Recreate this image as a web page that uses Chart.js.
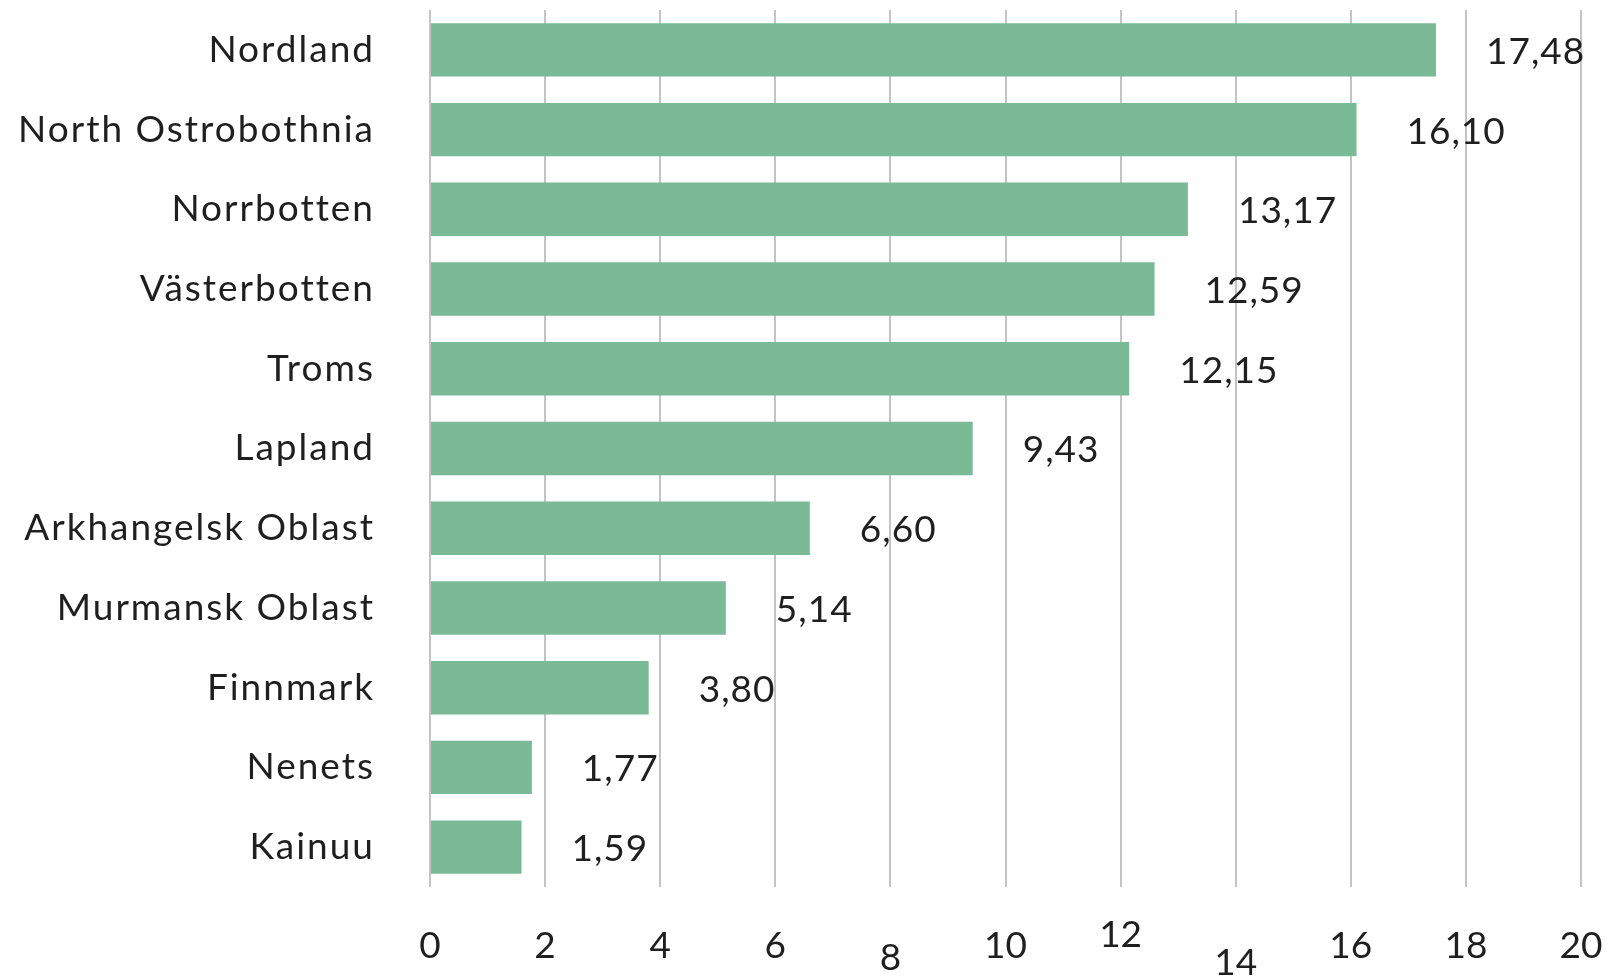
<!DOCTYPE html>
<html>
<head>
<meta charset="utf-8">
<script src="https://cdn.jsdelivr.net/npm/chart.js@4/dist/chart.umd.min.js"></script>
<style>
    html, body { margin: 0; padding: 0; background: #fff; }
    #wrap { width: 1612px; height: 976px; }
</style>
</head>
<body>
<div id="wrap"><canvas id="region-chart"></canvas></div>
<script>
// 各地区数值
const regions = ['Nordland', 'North Ostrobothnia', 'Norrbotten', 'Västerbotten', 'Troms', 'Lapland',
    'Arkhangelsk Oblast', 'Murmansk Oblast', 'Finnmark', 'Nenets', 'Kainuu'];
const values = [17.48, 16.10, 13.17, 12.59, 12.15, 9.43, 6.60, 5.14, 3.80, 1.77, 1.59];
const xTickValues = [0, 2, 4, 6, 8, 10, 12, 14, 16, 18, 20];

// 原图里部分刻度文字上下错位
const xTickShift = { 8: 12, 12: -11, 14: 17 };

const FONT = 'Lato, "Open Sans", sans-serif';
const TEXT_COLOR = '#1f1f1f';

// 类目标签字距略宽
const letterSpacingPlugin = {
    id: 'letterSpacing',
    beforeDraw(chart) { chart.ctx.letterSpacing = '2px'; },
    beforeDatasetsDraw(chart) { chart.ctx.letterSpacing = '0px'; }
};

const valueLabelPlugin = {
    id: 'valueLabels',
    afterDatasetsDraw(chart) {
        const ctx = chart.ctx;
        const meta = chart.getDatasetMeta(0);
        ctx.save();
        ctx.font = '37px ' + FONT;
        ctx.letterSpacing = '1px';
        ctx.fillStyle = TEXT_COLOR;
        ctx.textAlign = 'left';
        ctx.textBaseline = 'middle';
        meta.data.forEach((bar, i) => {
            const text = values[i].toFixed(2).replace('.', ',');
            ctx.fillText(text, bar.x + 50, bar.y + 2);
        });
        ctx.restore();
    }
};

const xTickPlugin = {
    id: 'xTickLabels',
    afterDraw(chart) {
        const ctx = chart.ctx;
        const scale = chart.scales.x;
        ctx.save();
        ctx.font = '37px ' + FONT;
        ctx.fillStyle = TEXT_COLOR;
        ctx.textAlign = 'center';
        ctx.textBaseline = 'middle';
        xTickValues.forEach((v) => {
            const x = scale.getPixelForValue(v);
            const y = chart.chartArea.bottom + 59 + (xTickShift[v] || 0);
            ctx.fillText(String(v), x, y);
        });
        ctx.restore();
    }
};

new Chart(document.getElementById('region-chart'), {
    type: 'bar',
    data: {
        labels: regions,
        datasets: [{
            data: values,
            backgroundColor: '#7aba97',
            borderWidth: 0,
            barPercentage: 1,
            categoryPercentage: 0.67
        }]
    },
    options: {
        indexAxis: 'y',
        responsive: true,
        maintainAspectRatio: false,
        animation: false,
        layout: { padding: { top: 10, right: 31, bottom: 0, left: 0 } },
        plugins: { legend: { display: false }, tooltip: { enabled: false } },
        scales: {
            x: {
                min: 0,
                max: 20,
                ticks: { display: false, stepSize: 2 },
                grid: { color: '#c4c4c4', lineWidth: 2, drawTicks: false },
                border: { display: false },
                afterFit(scale) { scale.height = 89; }
            },
            y: {
                ticks: { color: TEXT_COLOR, font: { family: FONT, size: 37 }, padding: 55 },
                grid: { display: false, drawTicks: false },
                border: { display: false },
                afterFit(scale) {
                    scale.width = 430;
                    scale.paddingTop = 0;
                    scale.paddingBottom = 0;
                }
            }
        }
    },
    plugins: [letterSpacingPlugin, valueLabelPlugin, xTickPlugin]
});
</script>
</body>
</html>
